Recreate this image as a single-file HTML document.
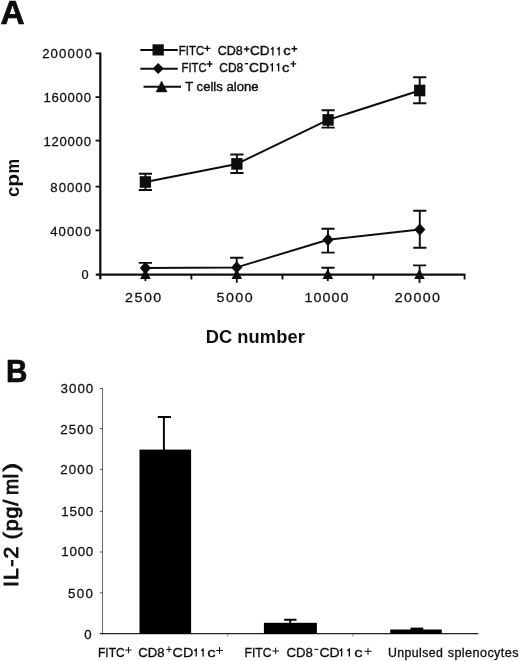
<!DOCTYPE html>
<html><head><meta charset="utf-8">
<style>
html,body{margin:0;padding:0;background:#fff;}
body{width:520px;height:661px;overflow:hidden;}
svg{display:block;will-change:transform;}
text{font-family:"Liberation Sans",sans-serif;fill:#111;}
</style></head><body>
<svg width="520" height="661" viewBox="0 0 520 661">
<defs><filter id="soft" x="0" y="0" width="520" height="661" filterUnits="userSpaceOnUse"><feGaussianBlur stdDeviation="0.4"/></filter></defs>
<rect width="520" height="661" fill="#fff"/>
<g filter="url(#soft)">
<!-- PANEL A axes -->
<g stroke="#111" stroke-width="2.2" fill="none">
  <path d="M100.3 52.5V279.3"/>
  <path d="M95.8 274.6H465.4"/>
</g>
<g stroke="#111" stroke-width="1.8" fill="none">
  <path d="M95.6 53.4H100M95.6 97.1H100M95.6 140.6H100M95.6 186.6H100M95.6 230.3H100"/>
  <path d="M191.4 274.5V279.5M282.5 274.5V279.5M373.4 274.5V279.5M464.6 274.5V279.5"/>
</g>
<!-- series lines -->
<g stroke="#111" stroke-width="2" fill="none" stroke-linejoin="round">
  <polyline points="145.4,182 236.9,163.9 328.1,119.9 419.7,90.5"/>
  <polyline points="145.4,268 236.7,267.4 328,239.8 419.8,229.6"/>
</g>
<!-- error bars -->
<g stroke="#111" stroke-width="1.9" fill="none">
  <path d="M145.4 173.7V190.0M138.8 173.7H152.0M138.8 190.0H152.0"/>
  <path d="M236.9 154.5V173.0M230.3 154.5H243.5M230.3 173.0H243.5"/>
  <path d="M328.1 110.2V127.6M321.5 110.2H334.7M321.5 127.6H334.7"/>
  <path d="M419.7 77.3V103.3M413.1 77.3H426.3M413.1 103.3H426.3"/>
  <path d="M145.4 262.9V274M138.8 262.9H152.0"/>
  <path d="M236.7 257.8V274M230.1 257.8H243.3"/>
  <path d="M328 228.7V252.6M321.4 228.7H334.6M321.4 252.6H334.6"/>
  <path d="M419.8 210.8V247.8M413.2 210.8H426.4M413.2 247.8H426.4"/>
  <path d="M328 267.8V274M321.4 267.8H334.6"/>
  <path d="M419.6 265.4V274M413.0 265.4H426.2"/>
</g>
<!-- markers -->
<g fill="#111">
  <rect x="139.75" y="176.20" width="11.3" height="11.6"/>
  <rect x="231.25" y="158.10" width="11.3" height="11.6"/>
  <rect x="322.45" y="114.10" width="11.3" height="11.6"/>
  <rect x="414.05" y="84.70" width="11.3" height="11.6"/>
  <path d="M145.4 261.8L151.0 268L145.4 274.2L139.8 268Z"/>
  <path d="M236.7 261.2L242.3 267.4L236.7 273.6L231.1 267.4Z"/>
  <path d="M328 233.6L333.6 239.8L328 246.0L322.4 239.8Z"/>
  <path d="M419.8 223.4L425.4 229.6L419.8 235.8L414.2 229.6Z"/>
  <path d="M145.4 268.8L150.7 279H140.1Z"/>
  <rect x="144.5" y="278" width="1.8" height="3.0"/>
  <path d="M236.8 268.8L242.1 279H231.5Z"/>
  <rect x="235.9" y="278" width="1.8" height="4.8"/>
  <path d="M327.8 268.8L333.1 279H322.5Z"/>
  <rect x="326.9" y="278" width="1.8" height="3.1"/>
  <path d="M419.5 268.8L424.8 279H414.2Z"/>
  <rect x="418.6" y="278" width="1.8" height="4.9"/>
</g>
<!-- legend -->
<g stroke="#111" stroke-width="2.1" fill="none">
  <path d="M140.3 50H177.8M140.3 68.7H177.8M143.5 86.7H181"/>
</g>
<g fill="#111">
  <rect x="152.5" y="44.3" width="11.3" height="11.2"/>
  <path d="M158.2 63.1L163.8 68.5L158.2 73.9L152.7 68.5Z"/>
  <path d="M161.6 81L167.1 91.9H156.1Z" stroke="#111" stroke-width="0.5" stroke-linejoin="round"/>
</g>
<!-- PANEL B -->
<g stroke="#444" stroke-width="0.9" fill="none">
  <path d="M102.5 388.3V634.3" stroke="#555" stroke-width="0.9"/>
  <path d="M99.8 633.6H478.4" stroke="#222" stroke-width="1.1"/>
  <path d="M227.7 633.6V636.5M353 633.6V636.5" stroke="#555" stroke-width="0.7"/>
  <path d="M99.8 388.5H102.5M99.8 428.6H102.5M99.8 469.3H102.5M99.8 511.3H102.5M99.8 552H102.5M99.8 592.8H102.5"/>
</g>
<g fill="#050505">
  <rect x="139.5" y="449.6" width="51.6" height="184.4"/>
  <rect x="263.9" y="622.8" width="53" height="11.2"/>
  <rect x="390.2" y="629.5" width="51.6" height="4.5"/>
  <rect x="410.5" y="627.6" width="12.8" height="3"/>
</g>
<g stroke="#050505" stroke-width="1.9" fill="none">
  <path d="M163.9 417V450M157.8 417H171"/>
  <path d="M290.2 619.8V623M284.2 619.8H296.5"/>
</g>
<text transform="translate(0.47 23.70) scale(1.0242 1)" font-size="32.6" letter-spacing="0.000" font-weight="bold" stroke="#111" stroke-width="0.7">A</text>
<text transform="translate(42.14 57.50) scale(1.0600 1)" font-size="12.4" letter-spacing="1.097" stroke="#111" stroke-width="0.25">200000</text>
<text transform="translate(43.40 101.90) scale(1.0600 1)" font-size="12.4" letter-spacing="0.708" stroke="#111" stroke-width="0.25">160000</text>
<text transform="translate(43.40 146.20) scale(1.0600 1)" font-size="12.4" letter-spacing="0.708" stroke="#111" stroke-width="0.25">120000</text>
<text transform="translate(50.33 191.70) scale(1.0600 1)" font-size="12.4" letter-spacing="0.975" stroke="#111" stroke-width="0.25">80000</text>
<text transform="translate(50.20 235.50) scale(1.0600 1)" font-size="12.4" letter-spacing="1.006" stroke="#111" stroke-width="0.25">40000</text>
<text transform="translate(81.60 279.30) scale(1.0291 1)" font-size="12.4" letter-spacing="0.000" stroke="#111" stroke-width="0.25">0</text>
<text transform="translate(125.08 301.60) scale(1.0800 1)" font-size="13.2" letter-spacing="1.376" stroke="#111" stroke-width="0.25">2500</text>
<text transform="translate(216.53 301.60) scale(1.0800 1)" font-size="13.2" letter-spacing="1.362" stroke="#111" stroke-width="0.25">5000</text>
<text transform="translate(304.61 301.60) scale(1.0800 1)" font-size="13.2" letter-spacing="0.995" stroke="#111" stroke-width="0.25">10000</text>
<text transform="translate(394.68 301.60) scale(1.0800 1)" font-size="13.2" letter-spacing="1.327" stroke="#111" stroke-width="0.25">20000</text>
<text transform="translate(18.75 197.12) rotate(-90) scale(1.0138 1)" font-size="18.2" letter-spacing="0.000" font-weight="bold">c</text>
<text transform="translate(18.75 186.79) rotate(-90) scale(1.1558 1)" font-size="18.2" letter-spacing="0.000" font-weight="bold">p</text>
<text transform="translate(18.75 173.58) rotate(-90) scale(0.9022 1)" font-size="18.2" letter-spacing="0.000" font-weight="bold">m</text>
<text transform="translate(205.68 343.30) scale(1.0133 1)" font-size="18" letter-spacing="0.099" font-weight="bold">DC number</text>
<text transform="translate(178.87 55.40) scale(0.9171 1)" font-size="12.4" letter-spacing="0.000" stroke="#111" stroke-width="0.4">FITC</text>
<text transform="translate(217.66 55.40) scale(1.0111 1)" font-size="12.4" letter-spacing="0.000" stroke="#111" stroke-width="0.4">CD8</text>
<text transform="translate(250.01 55.40) scale(1.0967 1)" font-size="12.4" letter-spacing="0.000" stroke="#111" stroke-width="0.4">CD</text>
<text transform="translate(283.26 55.40) scale(1.2000 1)" font-size="12.4" letter-spacing="0.000" stroke="#111" stroke-width="0.4">c</text>
<path d="M272.25 55.40V49.40H270.75V48.50Q272.15 48.30 272.55 46.80H273.60V55.40Z" fill="#111"/>
<path d="M278.45 55.40V49.40H276.95V48.50Q278.35 48.30 278.75 46.80H279.80V55.40Z" fill="#111"/>
<path d="M204.30 48.40H210.40M207.35 45.50V51.30" stroke="#111" stroke-width="1.4" fill="none"/>
<path d="M243.90 49.00H249.40M246.65 46.20V51.80" stroke="#111" stroke-width="1.4" fill="none"/>
<path d="M291.50 48.70H297.20M294.35 45.70V51.70" stroke="#111" stroke-width="1.4" fill="none"/>
<text transform="translate(181.58 71.50) scale(0.9056 1)" font-size="12.4" letter-spacing="0.000" stroke="#111" stroke-width="0.4">FITC</text>
<text transform="translate(219.29 71.50) scale(0.9646 1)" font-size="12.4" letter-spacing="0.000" stroke="#111" stroke-width="0.4">CD8</text>
<text transform="translate(249.00 71.50) scale(1.1087 1)" font-size="12.4" letter-spacing="0.000" stroke="#111" stroke-width="0.4">CD</text>
<text transform="translate(282.06 71.50) scale(1.2000 1)" font-size="12.4" letter-spacing="0.000" stroke="#111" stroke-width="0.4">c</text>
<path d="M271.65 71.50V65.50H270.15V64.60Q271.55 64.40 271.95 62.90H273.00V71.50Z" fill="#111"/>
<path d="M277.95 71.50V65.50H276.45V64.60Q277.85 64.40 278.25 62.90H279.30V71.50Z" fill="#111"/>
<path d="M206.80 64.00H212.50M209.65 61.10V66.90" stroke="#111" stroke-width="1.4" fill="none"/>
<path d="M244.80 63.70H248.10" stroke="#111" stroke-width="1.4" fill="none"/>
<path d="M290.50 63.90H296.20M293.35 60.90V66.90" stroke="#111" stroke-width="1.4" fill="none"/>
<text transform="translate(185.21 90.60) scale(1.0584 1)" font-size="12.4" letter-spacing="0.000" stroke="#111" stroke-width="0.4">T cells alone</text>
<text transform="translate(6.01 381.90) scale(0.9217 1)" font-size="32.2" letter-spacing="0.000" font-weight="bold" stroke="#111" stroke-width="0.7">B</text>
<text transform="translate(60.49 393.10) scale(1.0600 1)" font-size="12.6" letter-spacing="0.981" stroke="#111" stroke-width="0.25">3000</text>
<text transform="translate(60.13 433.50) scale(1.0600 1)" font-size="12.6" letter-spacing="1.095" stroke="#111" stroke-width="0.25">2500</text>
<text transform="translate(60.13 474.00) scale(1.0600 1)" font-size="12.6" letter-spacing="1.095" stroke="#111" stroke-width="0.25">2000</text>
<text transform="translate(61.18 515.80) scale(1.0600 1)" font-size="12.6" letter-spacing="0.763" stroke="#111" stroke-width="0.25">1500</text>
<text transform="translate(61.18 556.40) scale(1.0600 1)" font-size="12.6" letter-spacing="0.763" stroke="#111" stroke-width="0.25">1000</text>
<text transform="translate(68.07 598.10) scale(1.0600 1)" font-size="12.6" letter-spacing="1.213" stroke="#111" stroke-width="0.25">500</text>
<text transform="translate(84.19 638.70) scale(1.0460 1)" font-size="12.6" letter-spacing="0.000" stroke="#111" stroke-width="0.25">0</text>
<text transform="translate(18.40 587.07) rotate(-90) scale(1.0400 1)" font-size="20.5" letter-spacing="1.187" stroke="#111" stroke-width="0.9">IL-2</text>
<text transform="translate(18.40 539.32) rotate(-90) scale(1.0400 1)" font-size="20.5" letter-spacing="0.860" stroke="#111" stroke-width="0.9">(pg/</text>
<text transform="translate(18.40 495.09) rotate(-90) scale(0.9468 1)" font-size="20.5" letter-spacing="0.000" stroke="#111" stroke-width="0.9">m</text>
<text transform="translate(18.40 478.46) rotate(-90) scale(1.0545 1)" font-size="20.5" letter-spacing="0.000" stroke="#111" stroke-width="0.9">l</text>
<text transform="translate(18.40 471.45) rotate(-90) scale(1.2511 1)" font-size="20.5" letter-spacing="0.000" stroke="#111" stroke-width="0.9">)</text>
<text transform="translate(98.01 656.60) scale(1.0032 1)" font-size="12" letter-spacing="0.000" stroke="#111" stroke-width="0.3">FITC</text>
<text transform="translate(138.33 656.60) scale(1.0973 1)" font-size="12" letter-spacing="0.000" stroke="#111" stroke-width="0.3">CD8</text>
<text transform="translate(172.57 656.60) scale(1.1952 1)" font-size="12" letter-spacing="0.000" stroke="#111" stroke-width="0.3">CD</text>
<text transform="translate(207.21 656.60) scale(1.4000 1)" font-size="12" letter-spacing="0.000" stroke="#111" stroke-width="0.3">c</text>
<path d="M195.55 656.60V650.90H194.05V650.00Q195.45 649.80 195.85 648.30H196.90V656.60Z" fill="#111"/>
<path d="M202.45 656.60V650.90H200.95V650.00Q202.35 649.80 202.75 648.30H203.80V656.60Z" fill="#111"/>
<path d="M125.30 650.10H131.60M128.45 646.95V653.25" stroke="#111" stroke-width="1.0" fill="none"/>
<path d="M166.20 649.40H171.80M169.00 646.40V652.40" stroke="#111" stroke-width="1.0" fill="none"/>
<path d="M216.20 650.50H222.90M219.55 647.00V654.00" stroke="#111" stroke-width="1.0" fill="none"/>
<text transform="translate(244.60 656.60) scale(1.0112 1)" font-size="12" letter-spacing="0.000" stroke="#111" stroke-width="0.3">FITC</text>
<text transform="translate(286.43 656.60) scale(1.1016 1)" font-size="12" letter-spacing="0.000" stroke="#111" stroke-width="0.3">CD8</text>
<text transform="translate(319.49 656.60) scale(1.1642 1)" font-size="12" letter-spacing="0.000" stroke="#111" stroke-width="0.3">CD</text>
<text transform="translate(354.36 656.60) scale(1.4000 1)" font-size="12" letter-spacing="0.000" stroke="#111" stroke-width="0.3">c</text>
<path d="M340.95 656.60V650.90H339.45V650.00Q340.85 649.80 341.25 648.30H342.30V656.60Z" fill="#111"/>
<path d="M348.65 656.60V650.90H347.15V650.00Q348.55 649.80 348.95 648.30H350.00V656.60Z" fill="#111"/>
<path d="M272.30 651.00H279.00M275.65 647.75V654.25" stroke="#111" stroke-width="1.0" fill="none"/>
<path d="M314.50 649.40H318.30" stroke="#111" stroke-width="1.1" fill="none"/>
<path d="M364.40 651.30H371.60M368.00 647.80V654.80" stroke="#111" stroke-width="1.0" fill="none"/>
<text transform="translate(388.05 656.60) scale(1.0285 1)" font-size="12" letter-spacing="0.389" stroke="#111" stroke-width="0.3">Unpulsed</text>
<text transform="translate(447.65 656.60) scale(1.0575 1)" font-size="12" letter-spacing="0.378" stroke="#111" stroke-width="0.3">splenocytes</text>
</g>
</svg>
</body></html>
